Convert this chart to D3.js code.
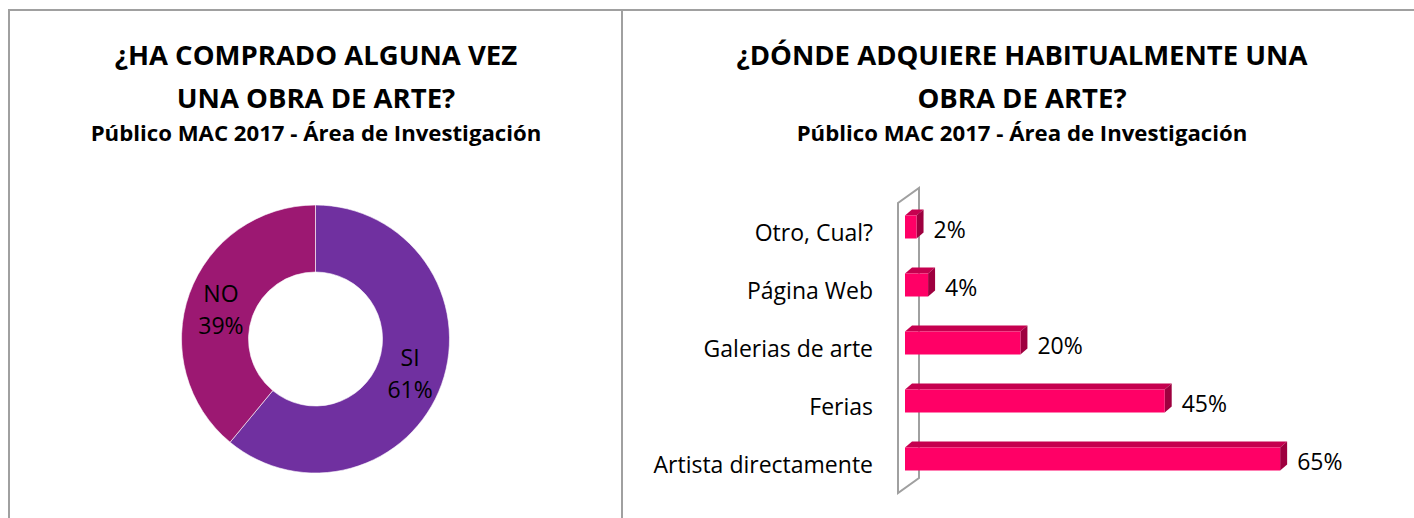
<!DOCTYPE html>
<html>
<head>
<meta charset="utf-8">
<script src="https://cdn.jsdelivr.net/npm/d3@7"></script>
<style>
  body { margin: 0; background: #fff; }
  text { font-family: "Open Sans", Lato, sans-serif; fill: #000; }
  .title { font-weight: bold; font-size: 27.5px; }
  .subtitle { font-weight: bold; font-size: 22.2px; }
  .lbl { font-size: 23px; }
</style>
</head>
<body>
<div class="main"></div>
<script>
const svgWidth = 1414,
    svgHeight = 518;

// donut data
const pieLabels = ["SI", "NO"],
    pieValues = [61, 39],
    pieColors = ["#7030A0", "#9C1872"];

// bar data (bottom to top in the picture)
const barCategories = ["Artista directamente", "Ferias", "Galerias de arte", "Página Web", "Otro, Cual?"],
    barValues = [0.65, 0.45, 0.20, 0.04, 0.02];

const leftTitle = ["¿HA COMPRADO ALGUNA VEZ", "UNA OBRA DE ARTE?"],
    rightTitle = ["¿DÓNDE ADQUIERE HABITUALMENTE UNA", "OBRA DE ARTE?"],
    subTitle = "Público MAC 2017 - Área de Investigación";

let svg = d3.select("body>.main").append("svg")
    .attr("width", svgWidth)
    .attr("height", svgHeight);

// frame lines
const frameColor = "#a0a0a0";
svg.append("line").attr("x1", 8).attr("x2", svgWidth).attr("y1", 10).attr("y2", 10)
    .style("stroke", frameColor).style("stroke-width", 2);
svg.append("line").attr("x1", 9).attr("x2", 9).attr("y1", 10).attr("y2", svgHeight)
    .style("stroke", frameColor).style("stroke-width", 2);
svg.append("line").attr("x1", 622).attr("x2", 622).attr("y1", 10).attr("y2", svgHeight)
    .style("stroke", frameColor).style("stroke-width", 2);

function titles(cx, lines) {
  lines.forEach(function(t, i) {
    svg.append("text").attr("class", "title")
        .attr("x", cx).attr("y", 65 + i * 43)
        .style("text-anchor", "middle")
        .text(t);
  });
  svg.append("text").attr("class", "subtitle")
      .attr("x", cx).attr("y", 141)
      .style("text-anchor", "middle")
      .text(subTitle);
}
titles(316, leftTitle);
titles(1022, rightTitle);

// ---- donut
const cx = 315.5, cy = 339, rOut = 134, rIn = 67;
let pie = d3.pie().sort(null),
    arc = d3.arc().innerRadius(rIn).outerRadius(rOut);

let donut = svg.append("g").attr("transform", "translate(" + cx + "," + cy + ")");
let slices = donut.selectAll(".slice")
    .data(pie(pieValues))
  .enter().append("g").attr("class", "slice");

slices.append("path")
    .attr("d", arc)
    .style("fill", (d, i) => pieColors[i])
    .style("stroke", "#fff")
    .style("stroke-width", 0.6);

slices.append("text")
    .attr("class", "lbl")
    .attr("transform", function(d, i) {
      let c = arc.centroid(d);
      return "translate(" + c[0] + "," + (c[1] + (i === 0 ? -4 : 0)) + ")";
    })
    .style("text-anchor", "middle")
  .selectAll("tspan")
    .data((d, i) => [pieLabels[i], pieValues[i] + "%"])
  .enter().append("tspan")
    .attr("x", 0)
    .attr("y", (d, i) => i === 0 ? -3 : 29)
    .text(d => d);

// ---- 3d bars
const x0 = 905,
    depthX = 7, depthY = -6,
    barH = 23;
let x = d3.scaleLinear().domain([0, 0.7]).range([x0, x0 + 404]),
    y = d3.scaleBand().domain(barCategories).range([488, 198]).paddingInner(0.6).paddingOuter(0.3);

// side wall outline
const wallTop = 203, wallBottom = 493, wallX = 898, wallDX = 21, wallDY = -15;
svg.append("path")
    .attr("d", "M" + wallX + "," + wallBottom +
               "L" + wallX + "," + wallTop +
               "L" + (wallX + wallDX) + "," + (wallTop + wallDY) +
               "L" + (wallX + wallDX) + "," + (wallBottom + wallDY) + "Z")
    .style("fill", "#fff")
    .style("stroke", frameColor)
    .style("stroke-width", 2);

let bars = svg.append("g").selectAll(".bar")
    .data(barValues)
  .enter().append("g").attr("class", "bar");

bars.each(function(v, i) {
  let g = d3.select(this),
      top = y.bandwidth() / 2 + y(barCategories[i]) - barH / 2,
      right = x(v);
  // top face
  g.append("path")
      .attr("d", "M" + x0 + "," + top + "L" + (x0 + depthX) + "," + (top + depthY) +
                 "L" + (right + depthX) + "," + (top + depthY) + "L" + right + "," + top + "Z")
      .style("fill", "#C5004F");
  // side face
  g.append("path")
      .attr("d", "M" + right + "," + top + "L" + (right + depthX) + "," + (top + depthY) +
                 "L" + (right + depthX) + "," + (top + barH + depthY) + "L" + right + "," + (top + barH) + "Z")
      .style("fill", "#9E003F");
  // front face
  g.append("rect")
      .attr("x", x0).attr("y", top)
      .attr("width", right - x0).attr("height", barH)
      .style("fill", "#FF0066");
  // value label
  g.append("text").attr("class", "lbl")
      .attr("x", right + depthX + 10)
      .attr("y", top + barH / 2 + 3)
      .attr("dy", ".35em")
      .text(Math.round(v * 100) + "%");
});

// category axis labels
svg.append("g").selectAll(".cat")
    .data(barCategories)
  .enter().append("text")
    .attr("class", "lbl cat")
    .attr("x", 873)
    .attr("y", d => y(d) + y.bandwidth() / 2 + 6)
    .attr("dy", ".35em")
    .style("text-anchor", "end")
    .text(d => d);
</script>
</body>
</html>
